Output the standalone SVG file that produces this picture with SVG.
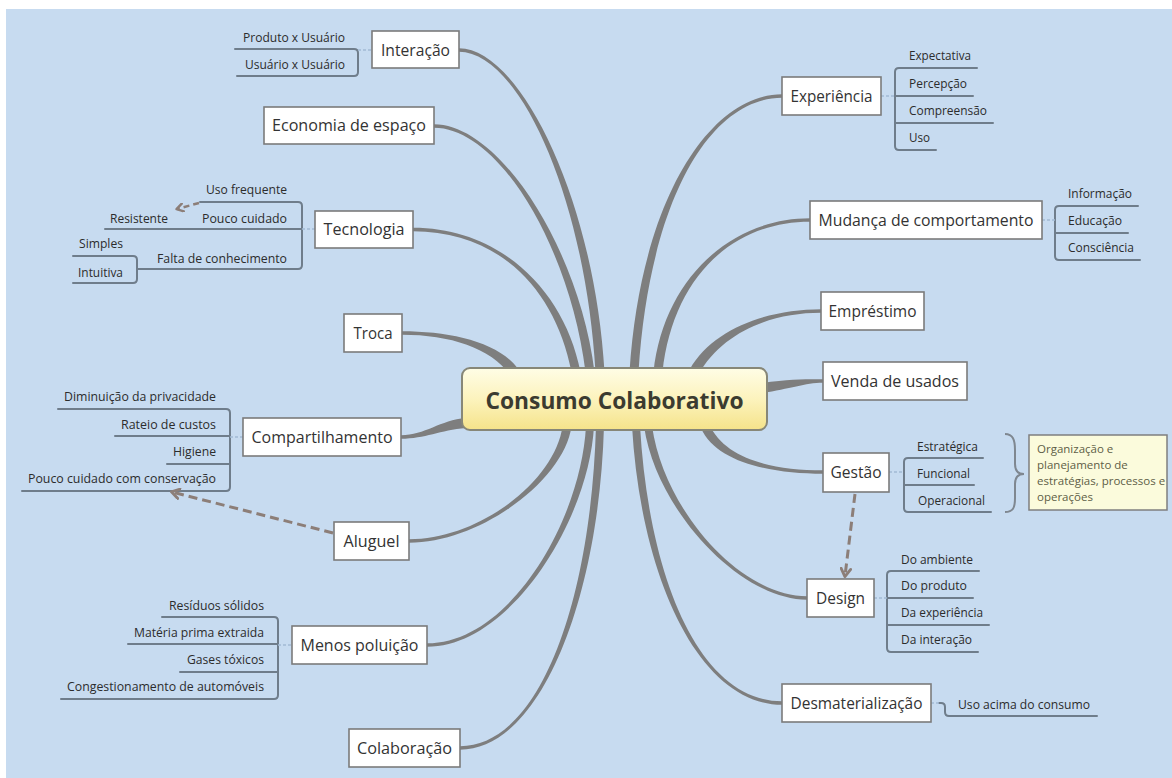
<svg xmlns="http://www.w3.org/2000/svg" width="1172" height="778" viewBox="0 0 1172 778">
<defs>
<linearGradient id="cg" x1="0" y1="0" x2="0" y2="1">
<stop offset="0" stop-color="#fffde6"/>
<stop offset="0.5" stop-color="#fcf3bd"/>
<stop offset="1" stop-color="#f5e38a"/>
</linearGradient>
<marker id="arr" viewBox="0 0 10 10" refX="7" refY="5" markerWidth="4" markerHeight="4" orient="auto" markerUnits="strokeWidth">
<path d="M1,1 L7.5,5 L1,9" fill="none" stroke="#8c7e78" stroke-width="2.4" stroke-linecap="round" stroke-linejoin="round"/>
</marker>
<style>
.bg{fill:#c7dbf0}
.conn{fill:#7e7e7e}
.box{fill:#ffffff;stroke:#7b7b7b;stroke-width:1.6}
.t{font-family:"Open Sans","Noto Sans",sans-serif;font-size:17px;fill:#333333;text-anchor:middle}
.s{font-family:"Open Sans","Noto Sans",sans-serif;font-size:12px;fill:#2c2c2c}
.e{text-anchor:end}
.sub{fill:none;stroke:#6f7d8b;stroke-width:2;stroke-linecap:round}
.mk{fill:none;stroke:#a3bbd3;stroke-width:1.5;stroke-dasharray:3 2}
.dash{fill:none;stroke:#8c7e78;stroke-width:3;stroke-dasharray:9 5}
.note{font-family:"Open Sans","Noto Sans",sans-serif;font-size:11.5px;fill:#5e5e46}
</style>
</defs>
<rect x="0" y="0" width="1172" height="778" fill="#ffffff"/>
<rect class="bg" x="6" y="9" width="1166" height="769"/>

<g id="connectors">
<path class="conn" d="M604.5,372 C594.5,200 520,48.25 459,48.25 L459,51.75 C520,51.75 585.5,200 595.5,372 Z"/>
<path class="conn" d="M594.5,372 C579.5,250 500,124.25 434,124.25 L434,127.75 C500,127.75 570.5,250 585.5,372 Z"/>
<path class="conn" d="M580.5,372 C564.5,290 500,227.75 413,227.75 L413,231.25 C500,231.25 555.5,290 571.5,372 Z"/>
<path class="conn" d="M518,369 C499,342 450,331.25 402,331.25 L402,334.75 C450,334.75 491,348 510,375 Z"/>
<path class="conn" d="M466,418 C440,420 425,435.25 401,435.25 L401,438.75 C425,438.75 440,430 466,428 Z"/>
<path class="conn" d="M562.5,426 C555.5,480 480,539.25 409,539.25 L409,542.75 C480,542.75 564.5,480 571.5,426 Z"/>
<path class="conn" d="M586,426 C581,520 510,643.25 427,643.25 L427,646.75 C510,646.75 589,520 594,426 Z"/>
<path class="conn" d="M596,426 C591,600 540,746.25 460,746.25 L460,749.75 C540,749.75 599,600 604,426 Z"/>
<path class="conn" d="M638.5,372 C649.5,200 710,97.75 782,97.75 L782,94.25 C710,94.25 640.5,200 629.5,372 Z"/>
<path class="conn" d="M662.5,372 C672.5,280 730,221.75 810,221.75 L810,218.25 C730,218.25 663.5,280 653.5,372 Z"/>
<path class="conn" d="M698.3,374.6 C722.3,332.6 770,312.75 821,312.75 L821,309.25 C770,309.25 713.7,327.4 689.7,369.4 Z"/>
<path class="conn" d="M762,393 C790,389 805,382.75 823,382.75 L823,379.25 C805,379.25 790,379 762,383 Z"/>
<path class="conn" d="M700.9,427.9 C715.9,461.9 770,473.75 823,473.75 L823,470.25 C770,470.25 724.1,458.1 709.1,424.1 Z"/>
<path class="conn" d="M644,426 C656,510 740,599.75 807,599.75 L807,596.25 C740,596.25 664,510 652,426 Z"/>
<path class="conn" d="M632,426 C641,580 700,704.75 782,704.75 L782,701.25 C700,701.25 649,580 640,426 Z"/>

<path class="sub" d="M235,49 H354 Q358,49 358,53 V72 Q358,76 354,76 H237"/>
<path class="mk" d="M358,50 H372"/>

<path class="sub" d="M200,202 H298 Q302,202 302,206 V265 Q302,269 298,269 H137"/>
<path class="sub" d="M105,229 H302"/>
<path class="sub" d="M73,256 H133 Q137,256 137,260 V279 Q137,283 133,283 H73"/>
<path class="mk" d="M302,229 H315"/>

<path class="sub" d="M58,409 H226 Q230,409 230,413 V487 Q230,491 226,491 H22"/>
<path class="sub" d="M115,436 H230 M167,464 H230"/>
<path class="mk" d="M230,437 H243"/>

<path class="sub" d="M162,617 H274 Q278,617 278,621 V695 Q278,699 274,699 H61"/>
<path class="sub" d="M128,644 H278 M180,672 H278"/>
<path class="mk" d="M278,645 H292"/>

<path class="sub" d="M977,68 H899 Q895,68 895,72 V146 Q895,150 899,150 H936"/>
<path class="sub" d="M895,96 H973 M895,123 H993"/>
<path class="mk" d="M881,96 H895"/>

<path class="sub" d="M1138,206 H1059 Q1055,206 1055,210 V256 Q1055,260 1059,260 H1140"/>
<path class="sub" d="M1055,233 H1128"/>
<path class="mk" d="M1042,220 H1055"/>

<path class="sub" d="M983,458 H908 Q904,458 904,462 V508 Q904,512 908,512 H991"/>
<path class="sub" d="M904,485 H974"/>
<path class="mk" d="M889,472 H904"/>

<path class="sub" d="M979,571 H891 Q887,571 887,575 V648 Q887,652 891,652 H978"/>
<path class="sub" d="M887,598 H973 M887,625 H989"/>
<path class="mk" d="M874,598 H887"/>

<path class="sub" d="M939,703 H941 Q945,703 945,707 V712 Q945,716 949,716 H1097"/>
<path class="mk" d="M931,703 H939"/>

<path class="dash" d="M333,533 L172,492" marker-end="url(#arr)"/>
<path class="dash" d="M855,494 L845,576" marker-end="url(#arr)"/>
<path class="dash" style="stroke-width:2.5;stroke-dasharray:6 4" d="M199,203 L177,209" marker-end="url(#arr)"/>

<path d="M1005,434 C1013,434 1015,440 1015,450 L1015,464 C1015,471 1018,474 1024,474 C1018,474 1015,477 1015,484 L1015,498 C1015,508 1013,512 1005,512" fill="none" stroke="#7f8790" stroke-width="2"/>
</g>

<g id="central">
<rect x="462" y="368" width="305" height="62" rx="8" fill="url(#cg)" stroke="#878778" stroke-width="2"/>
<text x="614.5" y="409" class="t" style="font-size:23px;font-weight:bold;fill:#3b3b30" textLength="258" lengthAdjust="spacingAndGlyphs">Consumo Colaborativo</text>
</g>

<g id="interacao">
<rect class="box" x="372" y="31" width="87" height="37"/>
<text class="t" x="415.5" y="55.5" textLength="69" lengthAdjust="spacingAndGlyphs">Interação</text>
<text class="s e" x="345" y="42" textLength="102" lengthAdjust="spacingAndGlyphs">Produto x Usuário</text>
<text class="s e" x="345" y="69" textLength="100" lengthAdjust="spacingAndGlyphs">Usuário x Usuário</text>
</g>

<g id="economia">
<rect class="box" x="264" y="107" width="170" height="37"/>
<text class="t" x="349" y="131" textLength="154" lengthAdjust="spacingAndGlyphs">Economia de espaço</text>
</g>

<g id="tecnologia">
<rect class="box" x="315" y="211" width="98" height="37"/>
<text class="t" x="364" y="235" textLength="81" lengthAdjust="spacingAndGlyphs">Tecnologia</text>
<text class="s e" x="287" y="194" textLength="81" lengthAdjust="spacingAndGlyphs">Uso frequente</text>
<text class="s e" x="287" y="223" textLength="85" lengthAdjust="spacingAndGlyphs">Pouco cuidado</text>
<text class="s e" x="168" y="223" textLength="58" lengthAdjust="spacingAndGlyphs">Resistente</text>
<text class="s e" x="287" y="263" textLength="130" lengthAdjust="spacingAndGlyphs">Falta de conhecimento</text>
<text class="s e" x="123" y="248" textLength="44" lengthAdjust="spacingAndGlyphs">Simples</text>
<text class="s e" x="123" y="277" textLength="45" lengthAdjust="spacingAndGlyphs">Intuitiva</text>
</g>

<g id="troca">
<rect class="box" x="344" y="314" width="58" height="38"/>
<text class="t" x="373" y="338.5" textLength="39" lengthAdjust="spacingAndGlyphs">Troca</text>
</g>

<g id="compartilhamento">
<rect class="box" x="243" y="418" width="158" height="38"/>
<text class="t" x="322" y="442.5" textLength="141" lengthAdjust="spacingAndGlyphs">Compartilhamento</text>
<text class="s e" x="216" y="401" textLength="152" lengthAdjust="spacingAndGlyphs">Diminuição da privacidade</text>
<text class="s e" x="216" y="429" textLength="95" lengthAdjust="spacingAndGlyphs">Rateio de custos</text>
<text class="s e" x="216" y="456" textLength="43" lengthAdjust="spacingAndGlyphs">Higiene</text>
<text class="s e" x="216" y="483" textLength="188" lengthAdjust="spacingAndGlyphs">Pouco cuidado com conservação</text>
</g>

<g id="aluguel">
<rect class="box" x="334" y="522" width="75" height="38"/>
<text class="t" x="371.5" y="546.5" textLength="56" lengthAdjust="spacingAndGlyphs">Aluguel</text>
</g>

<g id="menos-poluicao">
<rect class="box" x="292" y="626" width="135" height="38"/>
<text class="t" x="359.5" y="650.5" textLength="118" lengthAdjust="spacingAndGlyphs">Menos poluição</text>
<text class="s e" x="264" y="610" textLength="95" lengthAdjust="spacingAndGlyphs">Resíduos sólidos</text>
<text class="s e" x="264" y="637" textLength="130" lengthAdjust="spacingAndGlyphs">Matéria prima extraida</text>
<text class="s e" x="264" y="664" textLength="77" lengthAdjust="spacingAndGlyphs">Gases tóxicos</text>
<text class="s e" x="264" y="691" textLength="197" lengthAdjust="spacingAndGlyphs">Congestionamento de automóveis</text>
</g>

<g id="colaboracao">
<rect class="box" x="349" y="729" width="111" height="38"/>
<text class="t" x="404.5" y="753.5" textLength="95" lengthAdjust="spacingAndGlyphs">Colaboração</text>
</g>

<g id="experiencia">
<rect class="box" x="782" y="77" width="99" height="38"/>
<text class="t" x="831.5" y="101.5" textLength="82" lengthAdjust="spacingAndGlyphs">Experiência</text>
<text class="s" x="909" y="60" textLength="62" lengthAdjust="spacingAndGlyphs">Expectativa</text>
<text class="s" x="909" y="88" textLength="58" lengthAdjust="spacingAndGlyphs">Percepção</text>
<text class="s" x="909" y="115" textLength="78" lengthAdjust="spacingAndGlyphs">Compreensão</text>
<text class="s" x="909" y="142" textLength="21" lengthAdjust="spacingAndGlyphs">Uso</text>
</g>

<g id="mudanca">
<rect class="box" x="810" y="201" width="232" height="38"/>
<text class="t" x="926" y="225.5" textLength="215" lengthAdjust="spacingAndGlyphs">Mudança de comportamento</text>
<text class="s" x="1068" y="198" textLength="64" lengthAdjust="spacingAndGlyphs">Informação</text>
<text class="s" x="1068" y="225" textLength="54" lengthAdjust="spacingAndGlyphs">Educação</text>
<text class="s" x="1068" y="252" textLength="66" lengthAdjust="spacingAndGlyphs">Consciência</text>
</g>

<g id="emprestimo">
<rect class="box" x="821" y="292" width="103" height="38"/>
<text class="t" x="872.5" y="316.5" textLength="88" lengthAdjust="spacingAndGlyphs">Empréstimo</text>
</g>

<g id="venda">
<rect class="box" x="823" y="362" width="144" height="38"/>
<text class="t" x="895" y="386.5" textLength="128" lengthAdjust="spacingAndGlyphs">Venda de usados</text>
</g>

<g id="gestao">
<rect class="box" x="823" y="453" width="66" height="39"/>
<text class="t" x="856" y="478" textLength="51" lengthAdjust="spacingAndGlyphs">Gestão</text>
<text class="s" x="917" y="451" textLength="61" lengthAdjust="spacingAndGlyphs">Estratégica</text>
<text class="s" x="917" y="478" textLength="53" lengthAdjust="spacingAndGlyphs">Funcional</text>
<text class="s" x="918" y="505" textLength="67" lengthAdjust="spacingAndGlyphs">Operacional</text>
</g>

<g id="nota-gestao">
<rect x="1029" y="435" width="138" height="75" fill="#fbfbdc" stroke="#7f7f7f" stroke-width="1.5"/>
<text class="note" x="1037" y="453">Organização e</text>
<text class="note" x="1037" y="469">planejamento de</text>
<text class="note" x="1037" y="485">estratégias, processos e</text>
<text class="note" x="1037" y="501">operações</text>
</g>

<g id="design">
<rect class="box" x="807" y="579" width="67" height="38"/>
<text class="t" x="840.5" y="603.5" textLength="49" lengthAdjust="spacingAndGlyphs">Design</text>
<text class="s" x="901" y="564" textLength="72" lengthAdjust="spacingAndGlyphs">Do ambiente</text>
<text class="s" x="901" y="590" textLength="66" lengthAdjust="spacingAndGlyphs">Do produto</text>
<text class="s" x="901" y="617" textLength="82" lengthAdjust="spacingAndGlyphs">Da experiência</text>
<text class="s" x="901" y="644" textLength="71" lengthAdjust="spacingAndGlyphs">Da interação</text>
</g>

<g id="desmaterializacao">
<rect class="box" x="782" y="684" width="149" height="38"/>
<text class="t" x="856.5" y="708.5" textLength="132" lengthAdjust="spacingAndGlyphs">Desmaterialização</text>
<text class="s" x="958" y="709" textLength="132" lengthAdjust="spacingAndGlyphs">Uso acima do consumo</text>
</g>
</svg>
